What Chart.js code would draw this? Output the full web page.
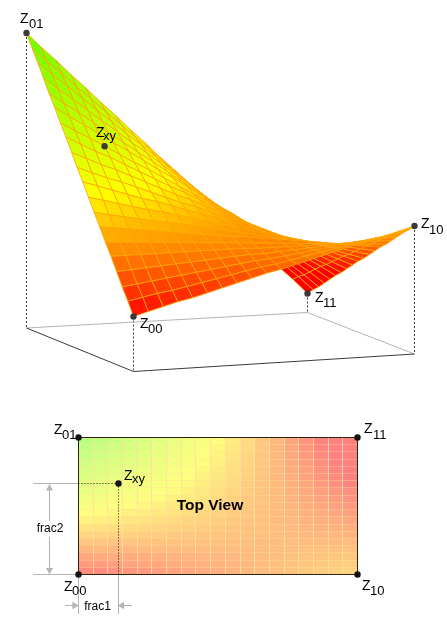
<!DOCTYPE html>
<html>
<head>
<meta charset="utf-8">
<style>html,body{margin:0;padding:0;background:#fff}canvas{display:block}</style>
<script src="https://cdn.jsdelivr.net/npm/chart.js@4"></script>
</head>
<body>
<canvas id="c" width="447" height="637"></canvas>
<script>
// Surface heights, one row per v-step (row 0 = Z00..Z10 edge, last row = Z01..Z11 edge).
// Estimates: the four corners and the Zxy point were read from the picture; the interior
// values were worked out by hand from those corners, following the straight rulings seen
// in the surface, and were not each measured individually.
const rowZ00 = [55,59,63,67,70,74,78,82,86,90,93,97,101,105,109,113,116,120,124,128];
const rowZ01 = [68,71,74,76,79,82,85,88,91,94,96,99,102,105,108,111,113,116,119,122];
const rowZ02 = [80,82,84,86,88,90,92,94,96,98,99,101,103,105,107,109,111,113,115,117];
const rowZ03 = [93,94,95,96,97,98,99,100,101,102,102,103,104,105,106,107,108,109,110,111];
const rowZ04 = [106,106,106,106,106,106,106,106,106,106,105,105,105,105,105,105,105,105,105,105];
const rowZ05 = [118,117,116,115,114,113,112,111,110,109,108,107,106,105,104,103,102,101,100,99];
const rowZ06 = [131,129,127,125,123,121,119,117,115,113,112,110,108,106,104,102,100,98,96,94];
const rowZ07 = [143,140,137,134,131,129,126,123,120,117,114,111,108,105,103,100,97,94,91,88];
const rowZ08 = [156,152,148,144,140,137,133,129,125,121,117,113,109,105,102,98,94,90,86,82];
const rowZ09 = [169,164,159,154,149,145,140,135,130,125,120,115,110,105,101,96,91,86,81,76];
const rowZ10 = [181,175,169,164,158,152,146,140,135,129,123,117,111,106,100,94,88,83,77,71];
const rowZ11 = [194,187,180,174,167,160,153,146,140,133,126,119,112,106,99,92,85,79,72,65];
const rowZ12 = [207,199,191,184,176,168,160,152,145,137,129,121,113,106,98,90,82,75,67,59];
const rowZ13 = [219,210,202,193,184,175,167,158,149,140,132,123,114,105,97,88,79,70,62,53];
const rowZ14 = [232,222,213,203,193,184,174,164,155,145,135,125,116,106,96,87,77,67,58,48];
const rowZ15 = [244,233,223,212,201,191,180,170,159,148,138,127,116,106,95,85,74,63,53,42];
const rowZ16 = [257,245,234,222,210,199,187,176,164,152,141,129,117,106,94,83,71,59,48,36];
const rowZ17 = [270,257,245,232,219,207,194,182,169,156,144,131,118,106,93,81,68,55,43,30];
const rowZ18 = [282,268,255,241,228,214,201,187,174,160,147,133,120,106,93,79,66,52,39,25];
const rowZ19 = [295,280,266,251,237,222,208,193,179,164,150,135,121,106,92,77,63,48,34,19];
const heightRows = [rowZ00,rowZ01,rowZ02,rowZ03,rowZ04,rowZ05,rowZ06,rowZ07,rowZ08,rowZ09,
                    rowZ10,rowZ11,rowZ12,rowZ13,rowZ14,rowZ15,rowZ16,rowZ17,rowZ18,rowZ19];

// Interpolated sample point
const frac1 = 0.1434;
const frac2 = 0.664;
const zxyHeight = 194;
const zxyFrac1On3D = 0.15;

// Height -> colour scale
const colourStops = [55, 157, 295];
const colourRGB = [[255,0,0],[255,255,0],[100,255,0]];

// Axis geometry (the "3D axes" and the top-view axes)
const floor = {f00:[133.5,371.5], f01:[26.5,328], f10:[414.5,354], f11:[307.5,312.5]};
const top2d = {l:78.5, r:357.5, t:437.5, b:574.5};

const bilerp = (a,b,c,d,u,v)=>a*(1-u)*(1-v)+b*(1-u)*v+c*u*(1-v)+d*u*v;
const project = (u,v,z)=>({
  x: bilerp(floor.f00[0],floor.f01[0],floor.f10[0],floor.f11[0],u,v),
  y: bilerp(floor.f00[1],floor.f01[1],floor.f10[1],floor.f11[1],u,v) - z
});
const plan = (u,v)=>({x: top2d.l+(top2d.r-top2d.l)*u, y: top2d.b-(top2d.b-top2d.t)*v});
const snap = p=>({x:Math.floor(p.x)+0.5, y:Math.floor(p.y)+0.5});

function colourFor(z, wash){
  let c;
  if(z<=colourStops[0]) c=colourRGB[0];
  else if(z>=colourStops[2]) c=colourRGB[2];
  else{
    const k = z<colourStops[1]?0:1;
    const t=(z-colourStops[k])/(colourStops[k+1]-colourStops[k]);
    c=colourRGB[k].map((q,n)=>q+(colourRGB[k+1][n]-q)*t);
  }
  if(wash) c=c.map(q=>q+(255-q)*wash);
  return `rgb(${c.map(Math.round).join(',')})`;
}

const DARK='#3a3a3a', GREY='#b4b4b4', BLACK='#111';
const overlays=[];
function line(pts,color,dash){
  overlays.push({data:pts,showLine:true,borderColor:color,borderWidth:1,borderDash:dash||[],pointRadius:0,fill:false,tension:0});
}
function dots(pts,color,r){
  overlays.push({data:pts,showLine:false,pointRadius:r,pointHoverRadius:r,pointBackgroundColor:color,pointBorderColor:color,pointBorderWidth:0});
}
function arrow(p,rot){
  overlays.push({data:[p],showLine:false,pointStyle:'triangle',pointRotation:rot,pointRadius:4.2,pointBackgroundColor:GREY,pointBorderColor:GREY,pointBorderWidth:0});
}

const nv=heightRows.length-1, nu=heightRows[0].length-1;
const cornerZ={z00:heightRows[0][0], z01:heightRows[nv][0], z10:heightRows[0][nu], z11:heightRows[nv][nu]};
const p00=project(0,0,cornerZ.z00), p01=project(0,1,cornerZ.z01), p10=project(1,0,cornerZ.z10), p11=project(1,1,cornerZ.z11);
const b00=project(0,0,0), b01=project(0,1,0), b10=project(1,0,0), b11=project(1,1,0);
const pxy=project(zxyFrac1On3D,frac2,zxyHeight), qxy=snap(plan(frac1,frac2));
const q00=plan(0,0), q01=plan(0,1), q10=plan(1,0), q11=plan(1,1);

// markers (first = on top)
dots([p00,p01,p10,p11,pxy],'#3a3a3a',3.2);
dots([q00,q01,q10,q11,qxy],'#111',3.2);
// top view overlays
line([{x:q00.x,y:qxy.y},qxy],BLACK,[1,2]);
line([qxy,{x:qxy.x,y:q00.y}],BLACK,[1,2]);
line([q00,q10,q11,q01,q00],'#2a2410');
line([{x:33,y:qxy.y},{x:q00.x,y:qxy.y}],GREY);
line([{x:33,y:q00.y},q00],GREY);
line([q00,{x:q00.x,y:614}],GREY);
line([{x:qxy.x,y:q00.y},{x:qxy.x,y:614}],GREY);
line([{x:49.5,y:qxy.y},{x:49.5,y:521}],GREY);
line([{x:49.5,y:537},{x:49.5,y:q00.y}],GREY);
line([{x:65,y:605.5},{x:q00.x,y:605.5}],GREY);
line([{x:qxy.x,y:605.5},{x:132,y:605.5}],GREY);
arrow({x:49.5,y:488.5},0);
arrow({x:49.5,y:570},180);
arrow({x:74.5,y:605.5},90);
arrow({x:122,y:605.5},270);
// 3D frame
line([b01,b00,b10],DARK);
line([b01,b11,b10],GREY);
line([p01,b01],DARK,[2,2]);
line([p00,b00],DARK,[2,2]);
line([p11,b11],DARK,[2,2]);
line([p10,b10],DARK,[2,2]);

// top view grid rulings
const rulings=[];
for(let i=1;i<nu;i++){
  rulings.push({data:[snap(plan(i/nu,0)),snap(plan(i/nu,1))],showLine:true,pointRadius:0,fill:false,
    borderColor:'rgba(255,222,160,0.85)',borderWidth:1});
}
for(let j=1;j<nv;j++){
  rulings.push({data:[snap(plan(0,j/nv)),snap(plan(1,j/nv))],showLine:true,pointRadius:0,fill:false,
    borderColor:'rgba(255,225,150,0.35)',borderWidth:1});
}

// surface cells: nearest first, because dataset 0 is painted last
const cellSets3D=[], cellSets2D=[];
for(let j=0;j<nv;j++){
  for(let i=0;i<nu;i++){
    const zs=[heightRows[j][i],heightRows[j][i+1],heightRows[j+1][i+1],heightRows[j+1][i]];
    const m=(zs[0]+zs[1]+zs[2]+zs[3])/4;
    const u0=i/nu,u1=(i+1)/nu,v0=j/nv,v1=(j+1)/nv;
    const a=project(u0,v0,zs[0]),b=project(u1,v0,zs[1]),c=project(u1,v1,zs[2]),d=project(u0,v1,zs[3]);
    cellSets3D.push({data:[a,b,c,d,a],showLine:true,pointRadius:0,tension:0,fill:'shape',
      backgroundColor:colourFor(m),borderColor:'#ffa500',borderWidth:0.85});
    const e=snap(plan(u0,v0)),f=snap(plan(u1,v0)),g=snap(plan(u1,v1)),h=snap(plan(u0,v1));
    const col=colourFor(m,0.5);
    cellSets2D.push({data:[e,f,g,h,e],showLine:true,pointRadius:0,tension:0,fill:'shape',
      backgroundColor:col,borderColor:col,borderWidth:1});
  }
}

// Labels: [main, sub, x main, baseline main, x sub, baseline sub]
const labels=[
 ['Z','01',20,23,29,28],['Z','xy',96,137,103,140],['Z','00',140,328,148,333],
 ['Z','11',315,302,323,307],['Z','10',421,228,429,234],
 ['Z','01',54,434,62,439],['Z','00',64,591,72,595],['Z','xy',124,480,132,483],
 ['Z','11',364,433,373,439],['Z','10',362,590,370,595]
];
const captions=[['frac2',50,532,'12px'],['frac1',97.5,610,'12px'],['Top View',210,510,'bold 15.5px']];

const textPlugin={id:'text',afterDatasetsDraw(ch){
  const {ctx,scales:{x,y}}=ch; ctx.save(); ctx.fillStyle='#000'; ctx.textBaseline='alphabetic';
  ctx.textAlign='left';
  for(const [m,s,a,b,c,d] of labels){
    ctx.font='14px "Liberation Sans"'; ctx.fillText(m,x.getPixelForValue(a),y.getPixelForValue(b));
    ctx.font='13px "Liberation Sans"'; ctx.fillText(s,x.getPixelForValue(c),y.getPixelForValue(d));
  }
  ctx.textAlign='center';
  for(const [t,a,b,f] of captions){
    ctx.font=f+' "Liberation Sans"'; ctx.fillText(t,x.getPixelForValue(a),y.getPixelForValue(b));
  }
  ctx.restore();
}};

new Chart(document.getElementById('c'),{
  type:'scatter',
  data:{datasets:[...overlays,...rulings,...cellSets3D,...cellSets2D]},
  options:{
    responsive:false,animation:false,events:[],
    layout:{padding:0,autoPadding:false},
    plugins:{legend:{display:false},title:{display:false},tooltip:{enabled:false}},
    scales:{
      x:{type:'linear',min:0,max:447,display:false},
      y:{type:'linear',min:0,max:637,reverse:true,display:false}
    }
  },
  plugins:[textPlugin]
});
</script>
</body>
</html>
